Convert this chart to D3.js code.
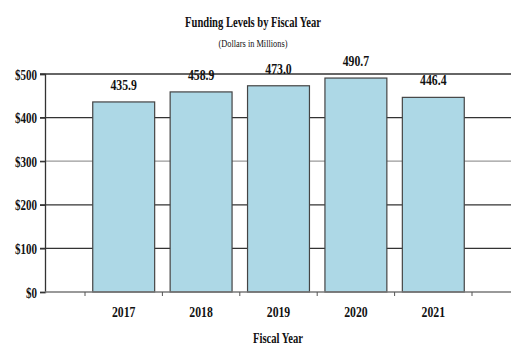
<!DOCTYPE html>
<html><head><meta charset="utf-8">
<script src="https://cdn.jsdelivr.net/npm/d3@7/dist/d3.min.js"></script>
<style>
body{margin:0;background:#fff;}
svg text{font-family:"Liberation Serif","Times New Roman","DejaVu Serif",serif !important;}
</style></head>
<body><svg id="c" width="530" height="355"></svg>
<script>
const years = ["2017","2018","2019","2020","2021"];
const funding = [435.9, 458.9, 473.0, 490.7, 446.4];
const yTicks = [0,100,200,300,400,500];
const title = "Funding Levels by Fiscal Year";
const subtitle = "(Dollars in Millions)";
const xTitle = "Fiscal Year";

const svg = d3.select("#c");
const mLeft = 45, mRight = 511, mTop = 74, mBottom = 292;
const y = d3.scaleLinear().domain([0,500]).range([mBottom, mTop]);
const x = d3.scaleBand().domain(years).range([85,472]).paddingInner(0.2).paddingOuter(0.1);
const step = x.step();

// horizontal squeeze factor so that a sample string has the wanted width
function squeeze(sample, size, weight, want){
  const t = svg.append("text").attr("font-size",size).attr("font-weight",weight).text(sample);
  const w = t.node().getComputedTextLength();
  t.remove();
  return want / w;
}
function place(sel, fx, fy, k){
  sel.attr("transform",(d,i)=>`translate(${fx(d,i)},${fy(d,i)}) scale(${k},1)`);
}

// title
const kT = squeeze(title, 14, "bold", 136);
place(svg.append("text").attr("text-anchor","middle").attr("font-weight","bold").attr("font-size",14).attr("fill","#111").text(title),
  ()=>253, ()=>27, kT);
const kS = squeeze(subtitle, 10.5, "normal", 69);
place(svg.append("text").attr("text-anchor","middle").attr("font-size",10.5).attr("fill","#111").text(subtitle),
  ()=>253, ()=>47, kS);

// gridlines
svg.append("g").selectAll("line").data(yTicks.filter(d=>d>0)).join("line")
  .attr("x1",mLeft-5).attr("x2",mRight).attr("y1",d=>y(d)).attr("y2",d=>y(d))
  .attr("stroke",d=>d===300?"#9a9a9a":"#333").attr("stroke-width",1.3);

// y axis
const ya = svg.append("g").attr("transform",`translate(${mLeft},0)`)
  .call(d3.axisLeft(y).tickValues(yTicks).tickSize(5).tickFormat(d=>"$"+d));
ya.select(".domain").attr("stroke","#333").attr("stroke-width",1.3);
ya.selectAll(".tick line").attr("stroke","#333").attr("stroke-width",1.3);
const kY = squeeze("$500", 14.5, "bold", 22);
const yt = ya.selectAll(".tick text").attr("font-size",14.5).attr("font-weight","bold")
  .attr("fill","#111").attr("x",null).attr("dy",null).attr("text-anchor","end");
place(yt, ()=>-8, ()=>5, kY);

// bars
svg.append("g").selectAll("rect").data(years).join("rect")
  .attr("x",d=>x(d)).attr("width",x.bandwidth())
  .attr("y",(d,i)=>y(funding[i])).attr("height",(d,i)=>y(0)-y(funding[i]))
  .attr("fill","#add8e6").attr("stroke","#444").attr("stroke-width",1.2);

// x axis
svg.append("line").attr("x1",mLeft).attr("x2",mRight).attr("y1",y(0)).attr("y2",y(0))
  .attr("stroke","#777").attr("stroke-width",1.3);
const bounds = years.map(d=>x(d)-step*0.1).concat([x(years[years.length-1])+x.bandwidth()+step*0.1]);
svg.append("g").selectAll("line").data(bounds).join("line")
  .attr("x1",d=>d).attr("x2",d=>d).attr("y1",y(0)).attr("y2",y(0)+4)
  .attr("stroke","#555").attr("stroke-width",1);
const kX = squeeze("2017", 14.5, "bold", 23.5);
place(svg.append("g").selectAll("text").data(years).join("text")
  .attr("text-anchor","middle").attr("font-weight","bold").attr("font-size",14.5).attr("fill","#111")
  .text(d=>d), d=>x(d)+x.bandwidth()/2, ()=>317, kX);
const kF = squeeze(xTitle, 14.5, "bold", 50);
place(svg.append("text").attr("text-anchor","middle").attr("font-weight","bold").attr("font-size",14.5).attr("fill","#111")
  .text(xTitle), ()=>(mLeft+mRight)/2, ()=>343, kF);

// value labels
const kV = squeeze("435.9", 14.5, "bold", 26.5);
place(svg.append("g").selectAll("text").data(years).join("text")
  .attr("text-anchor","middle").attr("font-weight","bold").attr("font-size",14.5).attr("fill","#111")
  .text((d,i)=>funding[i].toFixed(1)),
  d=>x(d)+x.bandwidth()/2, (d,i)=>y(funding[i])-12, kV);
</script></body></html>
